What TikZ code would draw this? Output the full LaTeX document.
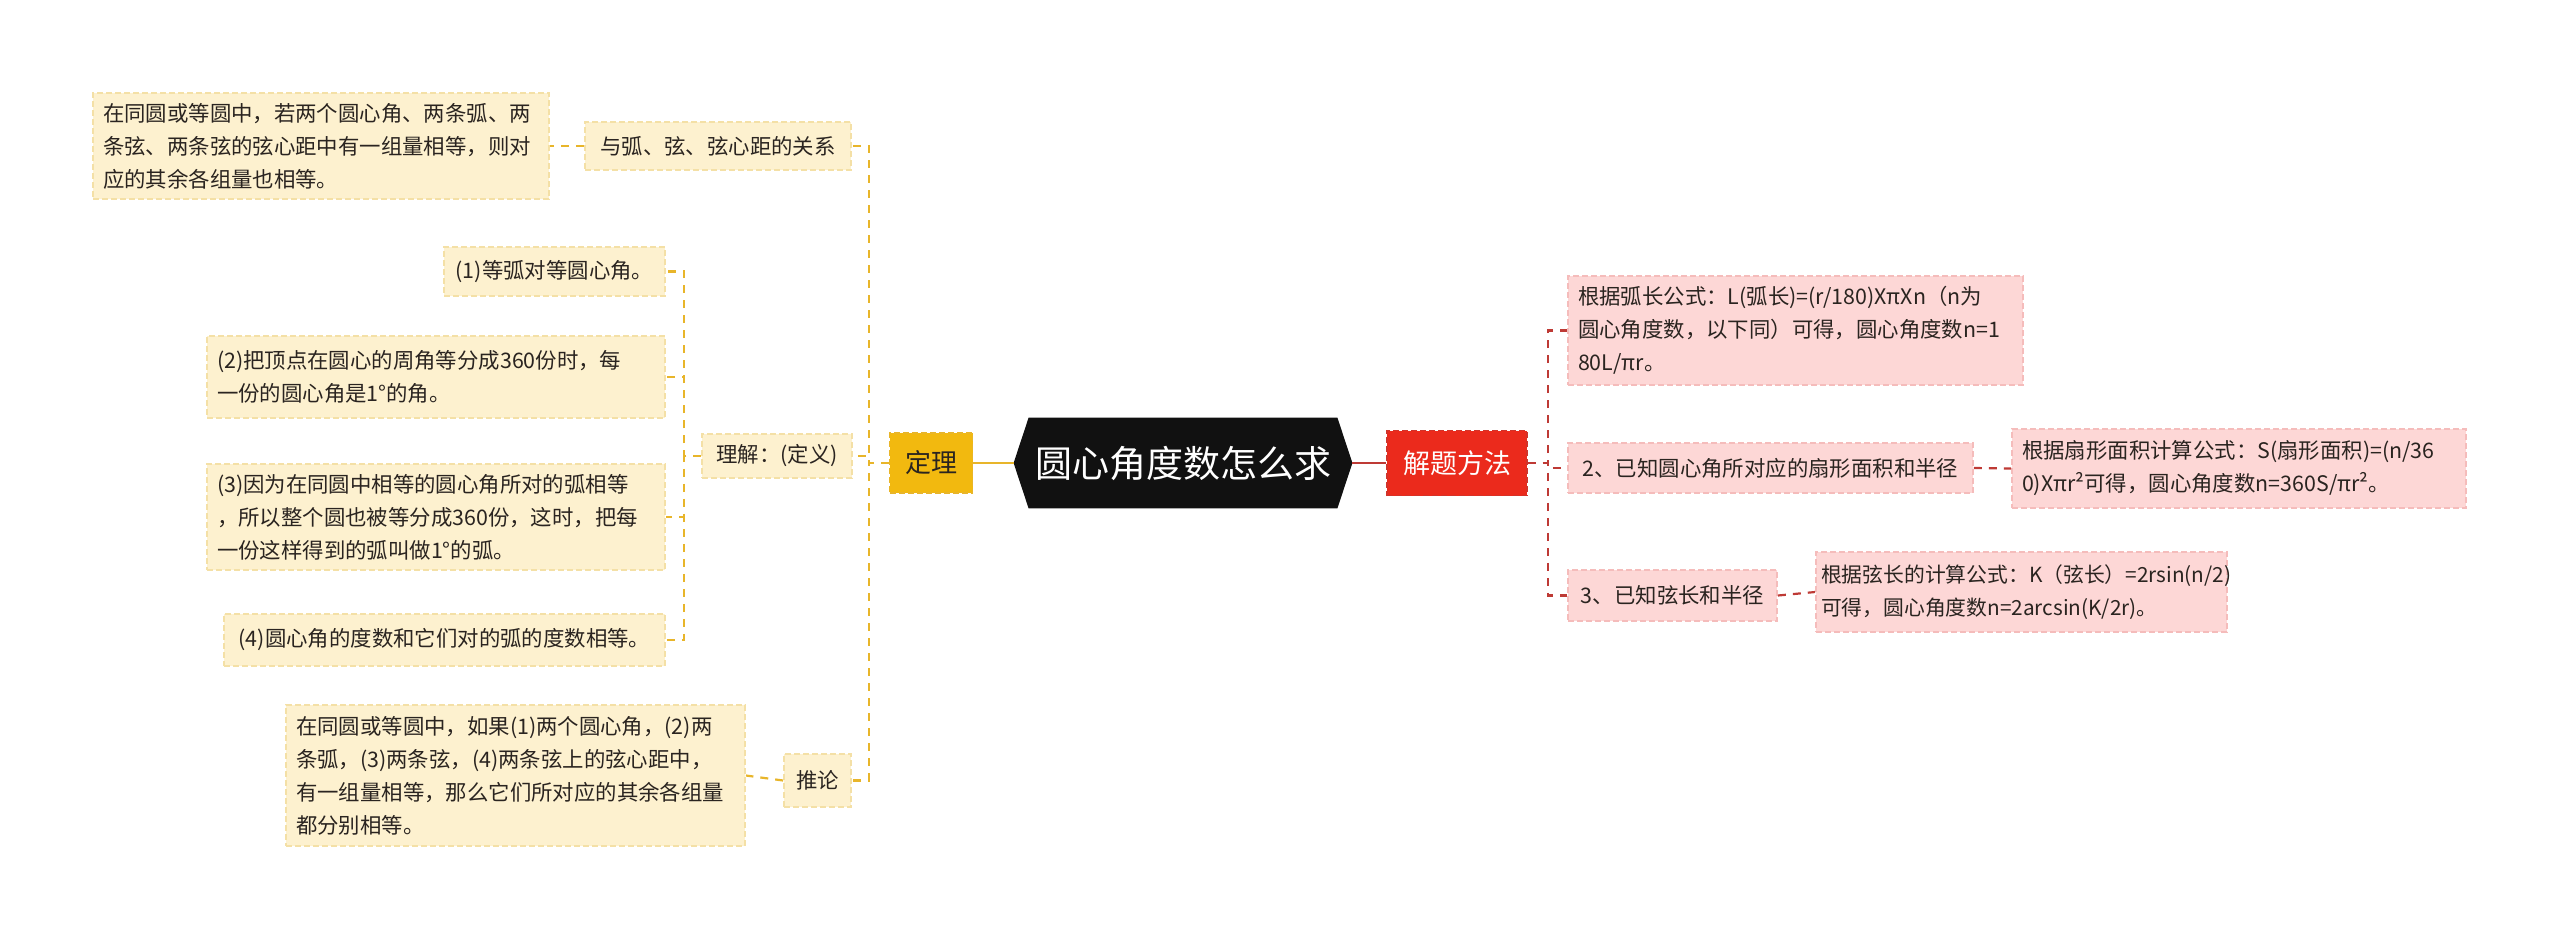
\documentclass[tikz,border=0pt]{standalone}
\usepackage{fontspec}
\setmainfont{Noto Sans CJK SC}
\definecolor{mmyellow}{HTML}{F2B90F}
\definecolor{mmline}{HTML}{E8B52A}
\definecolor{mmcream}{HTML}{FDF1CF}
\definecolor{mmcreamedge}{HTML}{F4E0A6}
\definecolor{mmred}{HTML}{EB2A1C}
\definecolor{mmredline}{HTML}{BE3A35}
\definecolor{mmpink}{HTML}{FDD7D6}
\definecolor{mmpinkedge}{HTML}{F5BCBB}
\definecolor{mmblack}{HTML}{111111}
\definecolor{mmtext}{HTML}{2A2420}
\usetikzlibrary{positioning,calc}
\pgfdeclarelayer{background}
\pgfsetlayers{background,main}
\tikzset{
  leafbox/.style={draw=mmcreamedge, dash pattern=on 3pt off 1.5pt, line width=0.9pt, fill=mmcream, text=mmtext, align=left, inner xsep=5pt, inner ysep=0pt, font=\fontsize{10.7}{16.5}\selectfont},
  methodbox/.style={leafbox, draw=mmpinkedge, fill=mmpink},
  ylink/.style={draw=mmline, line width=1.1pt, dash pattern=on 4pt off 3.5pt},
  rlink/.style={draw=mmredline, line width=1.1pt, dash pattern=on 4pt off 3.5pt},
}

\begin{document}
\begin{tikzpicture}[x=0.5pt,y=-0.5pt]
  \useasboundingbox (0,0) rectangle (2560,939);

  % central topic
  \node[text=white, minimum width=154pt, minimum height=45pt, inner sep=0pt, font=\fontsize{18.5}{20}\selectfont] (root) at (1183,463) {圆心角度数怎么求};
  \coordinate (rootL) at ([xshift=-7.5pt]root.west);
  \coordinate (rootR) at ([xshift=7.5pt]root.east);
  \begin{pgfonlayer}{background}
    \fill[mmblack] (root.north west) -- (root.north east) -- (rootR) -- (root.south east) -- (root.south west) -- (rootL) -- cycle;
  \end{pgfonlayer}

  % main branches
  \node[draw=mmline, dash pattern=on 3pt off 1.5pt, line width=0.9pt, fill=mmyellow, text=mmtext, minimum width=41.5pt, minimum height=30pt, inner sep=0pt, font=\fontsize{13}{15}\selectfont] (dingli) at (931,463) {定理};
  \node[draw=mmredline!60!mmred, dash pattern=on 3pt off 1.5pt, line width=0.9pt, fill=mmred, text=white, minimum width=70pt, minimum height=32.5pt, inner sep=0pt, font=\fontsize{13.5}{15}\selectfont] (jieti) at (1457,463) {解题方法};

  \draw[mmline, line width=1.4pt] (rootL) -- (dingli.east);
  \draw[mmredline, line width=1.4pt] (rootR) -- (jieti.west);

  % left side: 定理
  \node[leafbox, minimum width=133pt, minimum height=24pt, align=center] (guanxi) at (718,146) {与弧、弦、弦心距的关系};
  \node[leafbox, text width=218pt, minimum height=53pt] (guanxiT) at (321,146) {在同圆或等圆中，若两个圆心角、两条弧、两\\条弦、两条弦的弦心距中有一组量相等，则对\\应的其余各组量也相等。};
  \node[leafbox, minimum width=75pt, minimum height=22pt, align=center] (lijie) at (777,456) {理解：(定义)};
  \node[leafbox, minimum width=110.5pt, minimum height=24.5pt, align=center] (def1) at (554.5,271.5) {(1)等弧对等圆心角。};
  \node[leafbox, text width=219pt, minimum height=41pt] (def2) at (436,377) {(2)把顶点在圆心的周角等分成360份时，每\\一份的圆心角是1°的角。};
  \node[leafbox, text width=219pt, minimum height=53pt] (def3) at (436,517) {(3)因为在同圆中相等的圆心角所对的弧相等\\，所以整个圆也被等分成360份，这时，把每\\一份这样得到的弧叫做1°的弧。};
  \node[leafbox, minimum width=220.5pt, minimum height=26pt, align=center] (def4) at (444.5,640) {(4)圆心角的度数和它们对的弧的度数相等。};
  \node[leafbox, minimum width=33.5pt, minimum height=26.5pt, align=center] (tuilun) at (817.5,780.5) {推论};
  \node[leafbox, text width=219.5pt, minimum height=70.5pt] (tuilunT) at (515.5,775.5) {在同圆或等圆中，如果(1)两个圆心角，(2)两\\条弧，(3)两条弦，(4)两条弦上的弦心距中，\\有一组量相等，那么它们所对应的其余各组量\\都分别相等。};

  \coordinate (ltrunk) at (869,463);
  \coordinate (dtrunk) at (684,456);
  \draw[ylink] (dingli.west) -- (ltrunk) |- (guanxi.east);
  \draw[ylink] (dingli.west) -- (ltrunk) |- (lijie.east);
  \draw[ylink] (dingli.west) -- (ltrunk) |- (tuilun.east);
  \draw[ylink] (guanxi.west) -- (guanxiT.east);
  \draw[ylink] (tuilun.west) -- (tuilunT.east);
  \foreach \d in {def1,def2,def3,def4}
    \draw[ylink] (lijie.west) -- (dtrunk) |- (\d.east);

  % right side: 解题方法
  \node[methodbox, text width=217.5pt, minimum height=54.5pt] (hu) at (1795.5,330.5) {根据弧长公式：L(弧长)=(r/180)XπXn（n为\\圆心角度数，以下同）可得，圆心角度数n=1\\80L/πr。};
  \node[methodbox, minimum width=202.5pt, minimum height=25pt, align=center] (shan) at (1770.5,468) {2、已知圆心角所对应的扇形面积和半径};
  \node[methodbox, text width=217pt, minimum height=39.5pt] (shanT) at (2239,468.5) {根据扇形面积计算公式：S(扇形面积)=(n/36\\0)Xπr²可得，圆心角度数n=360S/πr²。};
  \node[methodbox, minimum width=104.5pt, minimum height=25.5pt, align=center] (xian) at (1672.5,595.5) {3、已知弦长和半径};
  \node[methodbox, inner xsep=2.5pt, text width=200.5pt, minimum height=40pt, font=\fontsize{10.4}{16.5}\selectfont] (xianT) at (2021.5,592) {根据弦长的计算公式：K（弦长）=2rsin(n/2)\\可得，圆心角度数n=2arcsin(K/2r)。};

  \coordinate (rtrunk) at (1548,463);
  \foreach \m in {hu,shan,xian}
    \draw[rlink] (jieti.east) -- (rtrunk) |- (\m.west);
  \draw[rlink] (shan.east) -- (shanT.west);
  \draw[rlink] (xian.east) -- (xianT.west);
\end{tikzpicture}
\end{document}
